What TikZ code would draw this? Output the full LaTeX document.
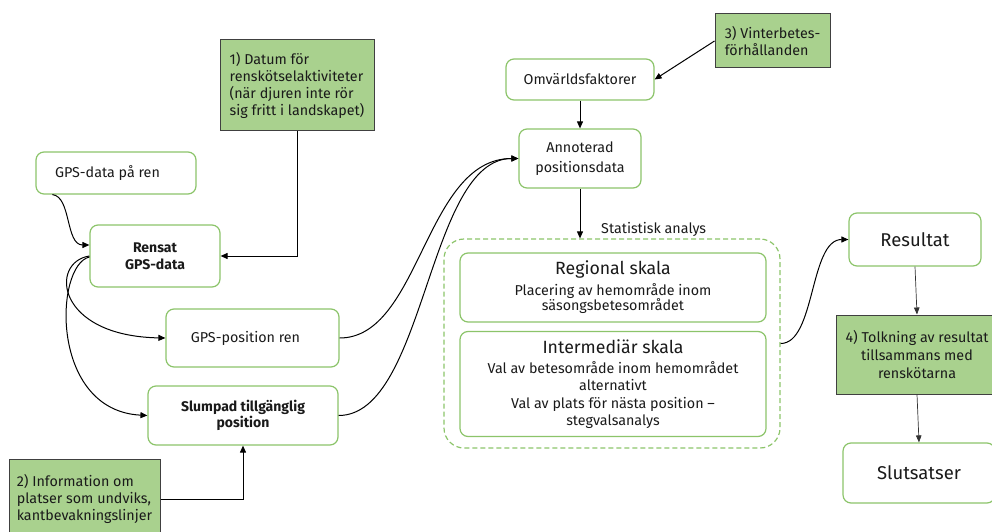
\documentclass[tikz,border=0pt]{standalone}
\usepackage{fontspec}
\setmainfont{Fira Sans}
\usetikzlibrary{arrows.meta,calc}
\definecolor{boxgreen}{HTML}{8CC46A}
\definecolor{fillgreen}{HTML}{A9D18E}
\definecolor{txt}{HTML}{1A1A1A}
\tikzset{
  rbox/.style={draw=boxgreen, line width=1.2pt, rounded corners=8pt, fill=white, align=center, text=txt, font=\fontsize{14.3}{17}\selectfont, inner sep=0pt},
  gbox/.style={draw=black!75, fill=fillgreen, line width=1pt, align=left, text=txt, font=\fontsize{14.3}{17}\selectfont, inner sep=0pt},
  gcbox/.style={gbox, align=center, font=\fontsize{14.3}{18}\selectfont},
  arr/.style={-{Triangle[length=7pt,width=6pt]}, line width=1pt, black},
  tarr/.style={-{Triangle[length=7pt,width=5.5pt]}, line width=0.7pt, black!80},
  big/.style={font=\fontsize{18.5}{22}\selectfont}
}
\begin{document}
\begin{tikzpicture}[x=1pt,y=-1pt]
\useasboundingbox (0,0) rectangle (992,532);
\clip (0,0) rectangle (992,532);
% left part
\node[gbox, minimum width=154, minimum height=90] (g1) at (297,85) {1) Datum för\\renskötselaktiviteter\\(när djuren inte rör\\sig fritt i landskapet)};
\node[rbox, minimum width=160, minimum height=42] (gps) at (116,173) {GPS-data på ren\hspace*{17pt}};
\node[rbox, minimum width=130, minimum height=62, font=\fontsize{14}{17}\selectfont\bfseries] (rensat) at (155,256) {Rensat\\GPS-data};
\node[rbox, minimum width=173, minimum height=58] (pos) at (252.5,338) {GPS-position ren\hspace*{14pt}};
\node[rbox, minimum width=190, minimum height=59, font=\fontsize{14}{16.7}\selectfont\bfseries] (slump) at (243,415.5) {Slumpad tillgänglig\\position};
\node[gbox, minimum width=151, minimum height=80] (g2) at (84.5,499) {2) Information om\\platser som undviks,\\kantbevakningslinjer};
% middle
\node[rbox, minimum width=148, minimum height=41] (omv) at (580,79.5) {Omvärldsfaktorer};
\node[gbox, minimum width=115, minimum height=54] (g3) at (772.5,41) {3) Vinterbetes-\\förhållanden};
\node[rbox, minimum width=122, minimum height=59, font=\fontsize{14.3}{20}\selectfont] (ann) at (580,158.5) {Annoterad\\positionsdata};
\node[draw=boxgreen, line width=1.2pt, dashed, dash pattern=on 5pt off 3pt, rounded corners=20pt, minimum width=336, minimum height=209, inner sep=0pt] (cont) at (612,343.5) {};
\node[text=txt, font=\fontsize{14.3}{16}\selectfont, anchor=west, inner sep=0pt] (stat) at (601,229) {Statistisk analys};
\node[rbox, minimum width=306, minimum height=69, font=\fontsize{14.3}{15.5}\selectfont] (reg) at (613,287.5) {{\fontsize{17.7}{20}\selectfont Regional skala}\\[4pt]Placering av hemområde inom\\säsongsbetesområdet};
\node[rbox, minimum width=306, minimum height=105, font=\fontsize{14.3}{17.5}\selectfont] (inter) at (613,384) {{\fontsize{17.7}{20}\selectfont Intermediär skala}\\[2.5pt]Val av betesområde inom hemområdet\\alternativt\\Val av plats för nästa position –\\stegvalsanalys};
% right
\node[rbox, big, minimum width=132, minimum height=53] (res) at (915,239.5) {Resultat};
\node[gcbox, minimum width=162, minimum height=79] (g4) at (917,354.5) {4) Tolkning av resultat\\tillsammans med\\renskötarna};
\node[rbox, big, minimum width=152, minimum height=60] (slut) at (919,473) {Slutsatser};
% connectors
\draw[arr] (g1.south) |- (rensat.east);
\draw[arr] ($(gps.south west)+(17,0)$) .. controls ($(gps.south west)+(36,2)$) and ($(rensat.west)+(-24,-11)$) .. ($(rensat.west)+(0,-11)$);
\draw[arr] (rensat.west) .. controls ($(rensat.west)+(-40,6)$) and ($(pos.west)+(-110,-2)$) .. (pos.west);
\draw[arr] ($(rensat.west)+(0,1)$) .. controls ($(rensat.west)+(-35,9)$) and ($(slump.west)+(-98,-5)$) .. ($(slump.west)+(0,0)$);
\draw[arr] (g2.east) -| (slump.south);
\draw[arr] (pos.east) .. controls ($(pos.east)+(81,0)$) and ($(ann.west)+(-94,0)$) .. (ann.west);
\draw[arr] (slump.east) .. controls ($(slump.east)+(87,0)$) and ($(ann.west)+(-91,0)$) .. (ann.west);
\draw[arr] (g3.west) -- (omv.east);
\draw[arr] (omv.south) -- (ann.north);
\draw[arr] (ann.south) -- (ann.south |- cont.north);
\draw[arr] (cont.east) .. controls ($(cont.east)+(35,0)$) and ($(res.west)+(-39,0)$) .. (res.west);
\draw[tarr] (res.south) -- (g4.north);
\draw[tarr] (g4.south) -- (slut.north);
\end{tikzpicture}
\end{document}
